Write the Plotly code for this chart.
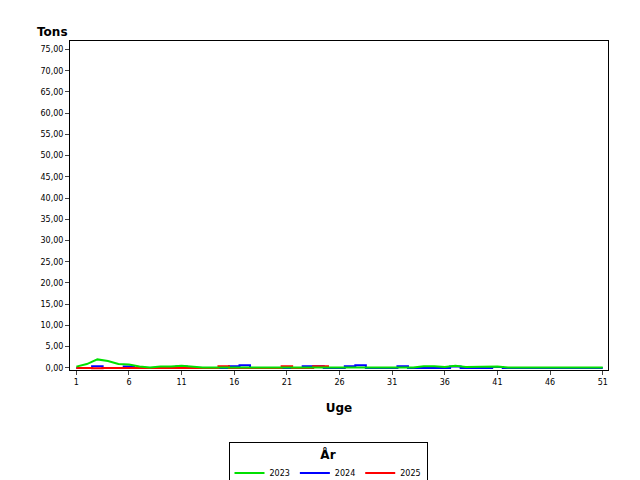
import plotly.graph_objects as go

weeks = list(range(1, 52))
y2023 = [0.3,0.9,2.0,1.6,0.9,0.8,0.3,0.1,0.3,0.3,0.5,0.3,0.1,0.1,0.1,0.1,0.1,0.1,0.1,0.1,
         0.1,0.1,0.1,0.1,0.1,0.1,0.1,0.1,0.1,0.1,0.1,0.1,0.1,0.4,0.4,0.2,0.5,0.2,0.2,0.2,
         0.3,0.1,0.1,0.1,0.1,0.1,0.1,0.1,0.1,0.1,0.1]
y2024 = [0.0,0.0,0.4,0.0,0.0,0.3,0.0,0.0,0.0,0.0,0.3,0.0,0.0,0.0,0.0,0.4,0.6,0.0,0.0,0.0,
         0.0,0.0,0.4,0.4,0.0,0.0,0.4,0.6,0.0,0.0,0.0,0.4,0.0,0.0,0.0,0.0,0.3,0.0,0.0,0.0,
         0.2,0.0,0.0,0.0,0.0,0.0,0.0,0.0,0.0,0.0,0.0]
w2025 = list(range(1, 26))
y2025 = [0.0,0.0,-0.1,0.0,0.0,0.0,0.0,0.0,0.0,0.0,0.0,0.0,0.0,0.0,0.4,0.0,0.0,0.0,0.0,0.0,
         0.4,0.0,0.0,0.4,0.4]

fig = go.Figure()
fig.add_trace(go.Scatter(x=weeks, y=y2024, name="2024", legendrank=2, mode="lines",
                         line=dict(color="#0000ff", width=2, shape="hvh")))
fig.add_trace(go.Scatter(x=w2025, y=y2025, name="2025", legendrank=3, mode="lines",
                         line=dict(color="#ff0000", width=2, shape="hvh")))
fig.add_trace(go.Scatter(x=weeks, y=y2023, name="2023", legendrank=1, mode="lines",
                         line=dict(color="#00e000", width=2)))

fig.update_layout(
    width=640, height=480, paper_bgcolor="white", plot_bgcolor="white",
    margin=dict(l=62, r=40, t=33, b=118, autoexpand=False),
    font=dict(family="DejaVu Sans", size=8, color="black"),
    showlegend=True,
    legend=dict(orientation="h", x=0.5, xanchor="center", xref="container",
                y=(480-434)/480, yanchor="top", yref="container",
                bordercolor="black", borderwidth=1, itemwidth=30, tracegroupgap=0,
                title=dict(text="<b>År</b>", side="top center", font=dict(size=12)),
                font=dict(size=8)),
    xaxis=dict(range=[0.4, 51.5], tickvals=[1,6,11,16,21,26,31,36,41,46,51], ticks="outside",
               ticklen=4, showgrid=False, zeroline=False, showline=True, linecolor="black", mirror=True,
               title=dict(text="<b>Uge</b>", font=dict(size=12), standoff=18)),
    yaxis=dict(range=[-0.5, 77], tickvals=list(range(0, 80, 5)),
               ticktext=[f"{v},00" for v in range(0, 80, 5)], ticks="outside", ticklen=4,
               showgrid=False, zeroline=False, showline=True, linecolor="black", mirror=True),
    annotations=[dict(text="<b>Tons</b>", xref="paper", yref="paper", x=-0.065, y=1.0,
                      xanchor="left", yanchor="bottom", showarrow=False, font=dict(size=12))],
)
fig.write_html("out.html")
